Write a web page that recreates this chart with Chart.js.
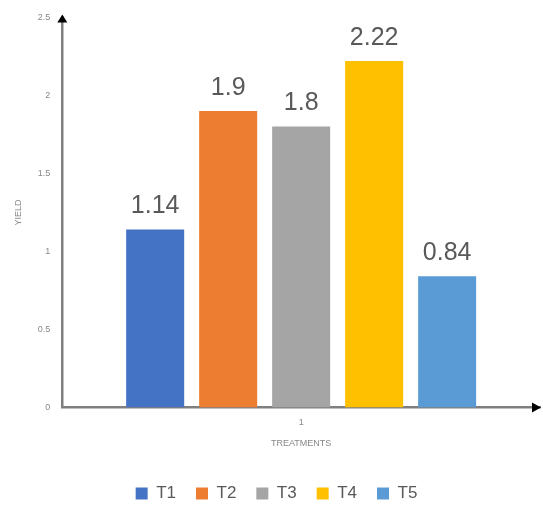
<!DOCTYPE html>
<html>
<head>
<meta charset="utf-8">
<script src="https://cdn.jsdelivr.net/npm/chart.js@4"></script>
<style>
  html, body { margin: 0; padding: 0; background: #fff; }
  #wrap { width: 543px; height: 506px; }
</style>
</head>
<body>
<div id="wrap"><canvas id="yieldChart" width="543" height="506"></canvas></div>
<script>
// chart data
const categories = ['1'];
const treatments = ['T1', 'T2', 'T3', 'T4', 'T5'];
const yieldValues = [1.14, 1.9, 1.8, 2.22, 0.84];
const barColors = ['#4472C4', '#ED7D31', '#A5A5A5', '#FFC000', '#5B9BD5'];
const yTicks = [0, 0.5, 1, 1.5, 2, 2.5];

// value labels above each bar
const valueLabels = {
    id: 'valueLabels',
    afterDatasetsDraw(chart) {
        const ctx = chart.ctx;
        ctx.save();
        ctx.font = '25px "Liberation Sans", Arial, sans-serif';
        ctx.fillStyle = '#595959';
        ctx.textAlign = 'center';
        ctx.textBaseline = 'middle';
        chart.data.datasets.forEach((ds, i) => {
            const meta = chart.getDatasetMeta(i);
            meta.data.forEach((bar, j) => {
                ctx.fillText(String(ds.data[j]), bar.x, bar.y - 23);
            });
        });
        ctx.restore();
    }
};

// arrowheads at the ends of both axes
const axisArrows = {
    id: 'axisArrows',
    afterDraw(chart) {
        const ctx = chart.ctx;
        const a = chart.chartArea;
        ctx.save();
        ctx.fillStyle = '#000';
        ctx.beginPath();
        ctx.moveTo(a.left - 5, a.top + 5);
        ctx.lineTo(a.left + 5, a.top + 5);
        ctx.lineTo(a.left, a.top - 3);
        ctx.closePath();
        ctx.fill();
        ctx.beginPath();
        ctx.moveTo(a.right - 8, a.bottom - 5);
        ctx.lineTo(a.right - 8, a.bottom + 5);
        ctx.lineTo(a.right + 1, a.bottom);
        ctx.closePath();
        ctx.fill();
        ctx.restore();
    }
};

const datasets = treatments.map((t, i) => ({
    label: t,
    data: [yieldValues[i]],
    backgroundColor: barColors[i],
    categoryPercentage: 0.764,
    barPercentage: 0.795
}));

new Chart(document.getElementById('yieldChart').getContext('2d'), {
    type: 'bar',
    data: { labels: categories, datasets: datasets },
    plugins: [valueLabels, axisArrows],
    options: {
        responsive: false,
        animation: false,
        layout: { padding: { top: 16, right: 3, left: 13, bottom: -6 } },
        plugins: {
            tooltip: { enabled: false },
            legend: {
                position: 'bottom',
                labels: {
                    boxWidth: 12,
                    boxHeight: 12,
                    padding: 20,
                    color: '#595959',
                    font: { size: 17, family: '"Liberation Sans", Arial, sans-serif' }
                }
            }
        },
        scales: {
            x: {
                grid: { display: false, drawTicks: false },
                border: { color: '#7f7f7f', width: 2.5 },
                ticks: { color: '#888', font: { size: 9 }, padding: 10 },
                title: {
                    display: true,
                    text: 'TREATMENTS',
                    color: '#888',
                    font: { size: 9 },
                    padding: { top: 0, bottom: 16 }
                }
            },
            y: {
                min: 0,
                max: 2.5,
                afterBuildTicks(axis) { axis.ticks = yTicks.map(v => ({ value: v })); },
                grid: { display: false, drawTicks: false },
                border: { color: '#7f7f7f', width: 2.5 },
                ticks: { color: '#888', font: { size: 9 }, padding: 12, callback: v => String(v) },
                title: {
                    display: true,
                    text: 'YIELD',
                    color: '#888',
                    font: { size: 9 },
                    padding: { top: 0, bottom: 2 }
                }
            }
        }
    }
});
</script>
</body>
</html>
